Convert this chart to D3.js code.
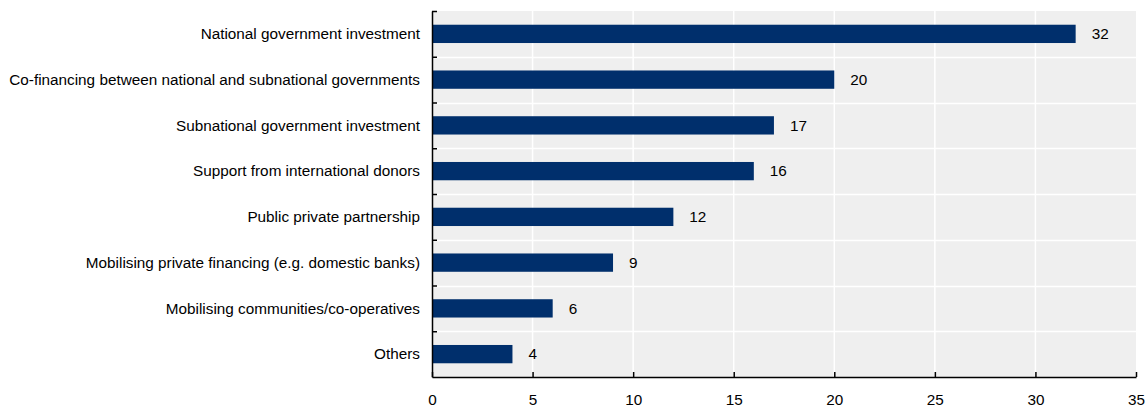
<html>
<head>
<meta charset="UTF-8">
<title>Financing sources</title>
<script src="https://cdnjs.cloudflare.com/ajax/libs/d3/7.8.5/d3.min.js"></script>
<style>
	body { margin: 0; background: #fff; }
	text { font-family: "Liberation Sans", Arial, sans-serif; fill: #000; }
</style>
</head>
<body>
<div id="chart"></div>
<script>
	// chart data
	var categories = [
		"National government investment",
		"Co-financing between national and subnational governments",
		"Subnational government investment",
		"Support from international donors",
		"Public private partnership",
		"Mobilising private financing (e.g. domestic banks)",
		"Mobilising communities/co-operatives",
		"Others"
	];
	var values = [32, 20, 17, 16, 12, 9, 6, 4];
	var xTicks = [0, 5, 10, 15, 20, 25, 30, 35];

	var width = 1146, height = 408;
	var margin = {left: 432, right: 10, top: 11, bottom: 31};
	var plotW = width - margin.left - margin.right;
	var plotH = height - margin.top - margin.bottom;
	var fs = "15.3px";

	var svg = d3.select("#chart").append("svg")
		.attr("width", width)
		.attr("height", height);

	var g = svg.append("g")
		.attr("transform", "translate(" + margin.left + "," + margin.top + ")");

	var x = d3.scaleLinear().domain([0, 35]).range([0, plotW]);
	var y = d3.scaleBand().domain(categories).range([0, plotH]).paddingInner(0.6).paddingOuter(0.3);

	// background
	g.append("rect")
		.attr("width", plotW)
		.attr("height", plotH)
		.attr("fill", "#efefef");

	// vertical grid
	g.selectAll(".vgrid").data(xTicks.slice(1, -1)).enter().append("line")
		.attr("x1", d => x(d)).attr("x2", d => x(d))
		.attr("y1", 0).attr("y2", plotH)
		.attr("stroke", "#fff").attr("stroke-width", 1.5);

	// horizontal band separators
	var bounds = d3.range(1, categories.length);
	g.selectAll(".hgrid").data(bounds).enter().append("line")
		.attr("x1", 0).attr("x2", plotW)
		.attr("y1", d => Math.round(d * plotH / categories.length) + 0.5)
		.attr("y2", d => Math.round(d * plotH / categories.length) + 0.5)
		.attr("stroke", "#fff").attr("stroke-width", 1.5);

	// bars
	g.selectAll(".bar").data(values).enter().append("rect")
		.attr("x", 0)
		.attr("y", (d, i) => y(categories[i]))
		.attr("width", d => x(d))
		.attr("height", y.bandwidth())
		.attr("fill", "#002f6c");

	// value labels
	g.selectAll(".val").data(values).enter().append("text")
		.attr("x", d => x(d) + 16)
		.attr("y", (d, i) => y(categories[i]) + y.bandwidth() / 2)
		.attr("dy", "0.35em")
		.style("font-size", fs)
		.text(d => d);

	// x axis
	var xAxis = g.append("g")
		.attr("transform", "translate(0," + plotH + ")")
		.call(d3.axisBottom(x).tickValues(xTicks).tickSizeInner(-5).tickSizeOuter(0).tickPadding(17));
	xAxis.select(".domain").attr("stroke", "#000").attr("stroke-width", 1.5);
	xAxis.selectAll(".tick line").attr("stroke", "#000").attr("stroke-width", 1.5);
	xAxis.selectAll("text").style("font-size", fs).attr("font-family", null);

	// y axis
	var yEdge = d3.scaleLinear().domain([0, categories.length]).range([0, plotH]);
	var yAxis = g.append("g")
		.call(d3.axisLeft(yEdge).tickValues(d3.range(0, categories.length)).tickSizeInner(-5).tickSizeOuter(0).tickFormat(""));
	yAxis.select(".domain").attr("stroke", "#000").attr("stroke-width", 1.5);
	yAxis.selectAll(".tick line").attr("stroke", "#000").attr("stroke-width", 1.5);

	// category labels
	g.selectAll(".cat").data(categories).enter().append("text")
		.attr("x", -12)
		.attr("y", d => y(d) + y.bandwidth() / 2)
		.attr("dy", "0.35em")
		.attr("text-anchor", "end")
		.style("font-size", fs)
		.text(d => d);
</script>
</body>
</html>
